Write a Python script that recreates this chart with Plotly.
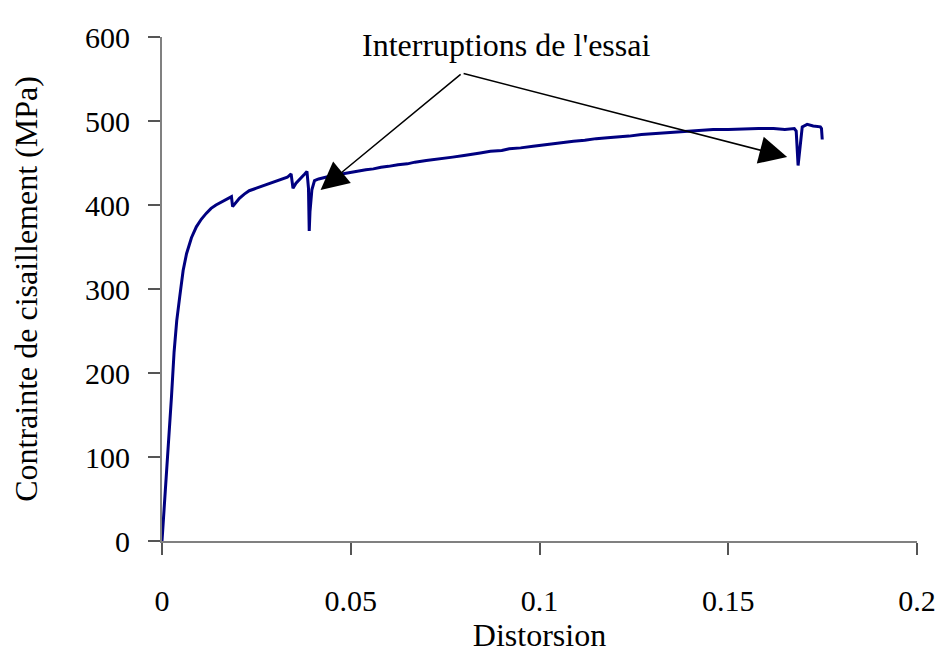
import plotly.graph_objects as go

# Shear stress vs distortion
distorsion = [
    0.0, 0.0010, 0.0017, 0.0025, 0.0032, 0.0039, 0.0047, 0.0056, 0.0065, 0.0078,
    0.0091, 0.0104, 0.0117, 0.0130, 0.0143, 0.0160, 0.0175, 0.0184, 0.0187, 0.0195,
    0.0205, 0.0218, 0.0231, 0.0250, 0.0262, 0.0275, 0.0290, 0.0305, 0.0320, 0.0332,
    0.0342, 0.0347, 0.0355, 0.0368, 0.0378, 0.0384, 0.0388, 0.0390, 0.0392, 0.0397,
    0.0404, 0.0415, 0.0423, 0.0440, 0.0460, 0.0476, 0.050, 0.052, 0.054, 0.056,
    0.058, 0.060, 0.0625, 0.065, 0.067, 0.070, 0.072, 0.075, 0.077, 0.080,
    0.082, 0.0843, 0.087, 0.090, 0.092, 0.095, 0.0983, 0.100, 0.103, 0.1062,
    0.109, 0.112, 0.115, 0.118, 0.121, 0.1237, 0.127, 0.130, 0.133, 0.136,
    0.1403, 0.143, 0.146, 0.150, 0.1543, 0.158, 0.162, 0.165, 0.1675, 0.1680,
    0.1685, 0.1690, 0.1696, 0.1709, 0.1725, 0.1744, 0.1747, 0.1749,
]
contrainte = [
    0, 65, 114, 171, 225, 262, 291, 322, 342, 361,
    374, 383, 390, 396, 400, 404, 407, 410, 398, 402,
    408, 413, 417, 420, 422, 424, 426, 429, 431, 433,
    437, 420, 426, 433, 437, 440, 420, 369, 392, 418,
    429, 431, 432, 434, 436, 437, 439, 441, 442, 443,
    445, 446, 448, 449, 451, 453, 454, 456, 457, 459,
    460, 462, 464, 465, 467, 468, 470, 471, 473, 474,
    476, 477, 479, 480, 481, 482, 484, 485, 486, 487,
    488, 489, 490, 490, 491, 491, 491, 490, 491, 488,
    447, 470, 493, 496, 494, 493, 491, 478,
]

# annotation: label and the two interruption points it points to
label = "Interruptions de l'essai"
label_pos = (0.0912, 590)
arrow_origin = (0.0795, 557)
arrow_tips = [(0.0420, 418), (0.1656, 457)]

FONT = "Liberation Serif, Times New Roman, serif"

fig = go.Figure()
fig.add_trace(go.Scatter(
    x=distorsion, y=contrainte, mode="lines",
    line=dict(color="#000080", width=3),
    showlegend=False,
))

annotations = [dict(
    x=label_pos[0], y=label_pos[1], xref="x", yref="y",
    text=label, showarrow=False, font=dict(family=FONT, size=32, color="black"),
    xanchor="center", yanchor="middle",
)]
for tx, ty in arrow_tips:
    annotations.append(dict(
        x=tx, y=ty, xref="x", yref="y",
        ax=arrow_origin[0], ay=arrow_origin[1], axref="x", ayref="y",
        text="", showarrow=True, arrowhead=2, arrowsize=3.7,
        arrowwidth=1.5, arrowcolor="black", standoff=0,
    ))

# page body has an 8px margin, so the figure is 8px smaller than the window
fig.update_layout(
    width=940, height=647,
    margin=dict(l=154, r=24, t=16, b=101),
    paper_bgcolor="white", plot_bgcolor="white",
    font=dict(family=FONT, size=30, color="black"),
    annotations=annotations,
)
fig.update_xaxes(
    range=[0, 0.2], tickvals=[0, 0.05, 0.1, 0.15, 0.2],
    ticktext=["0", "0.05", "0.1", "0.15", "0.2"],
    showgrid=False, zeroline=False, showline=True, linecolor="#808080", linewidth=2,
    ticks="outside", ticklen=12, tickcolor="#555555", tickwidth=1.5,
    ticklabelstandoff=20, ticklabeloverflow="allow", tickfont=dict(size=30),
    title=dict(text="Distorsion", standoff=4, font=dict(size=32)),
)
fig.update_yaxes(
    range=[0, 600], tickvals=[0, 100, 200, 300, 400, 500, 600],
    showgrid=False, zeroline=False, showline=True, linecolor="#808080", linewidth=2,
    ticks="outside", ticklen=12, tickcolor="#555555", tickwidth=1.5,
    ticklabelstandoff=12, ticklabeloverflow="allow", tickfont=dict(size=30),
    title=dict(text="Contrainte de cisaillement (MPa)", standoff=40, font=dict(size=32)),
)

fig.write_html("out.html")
